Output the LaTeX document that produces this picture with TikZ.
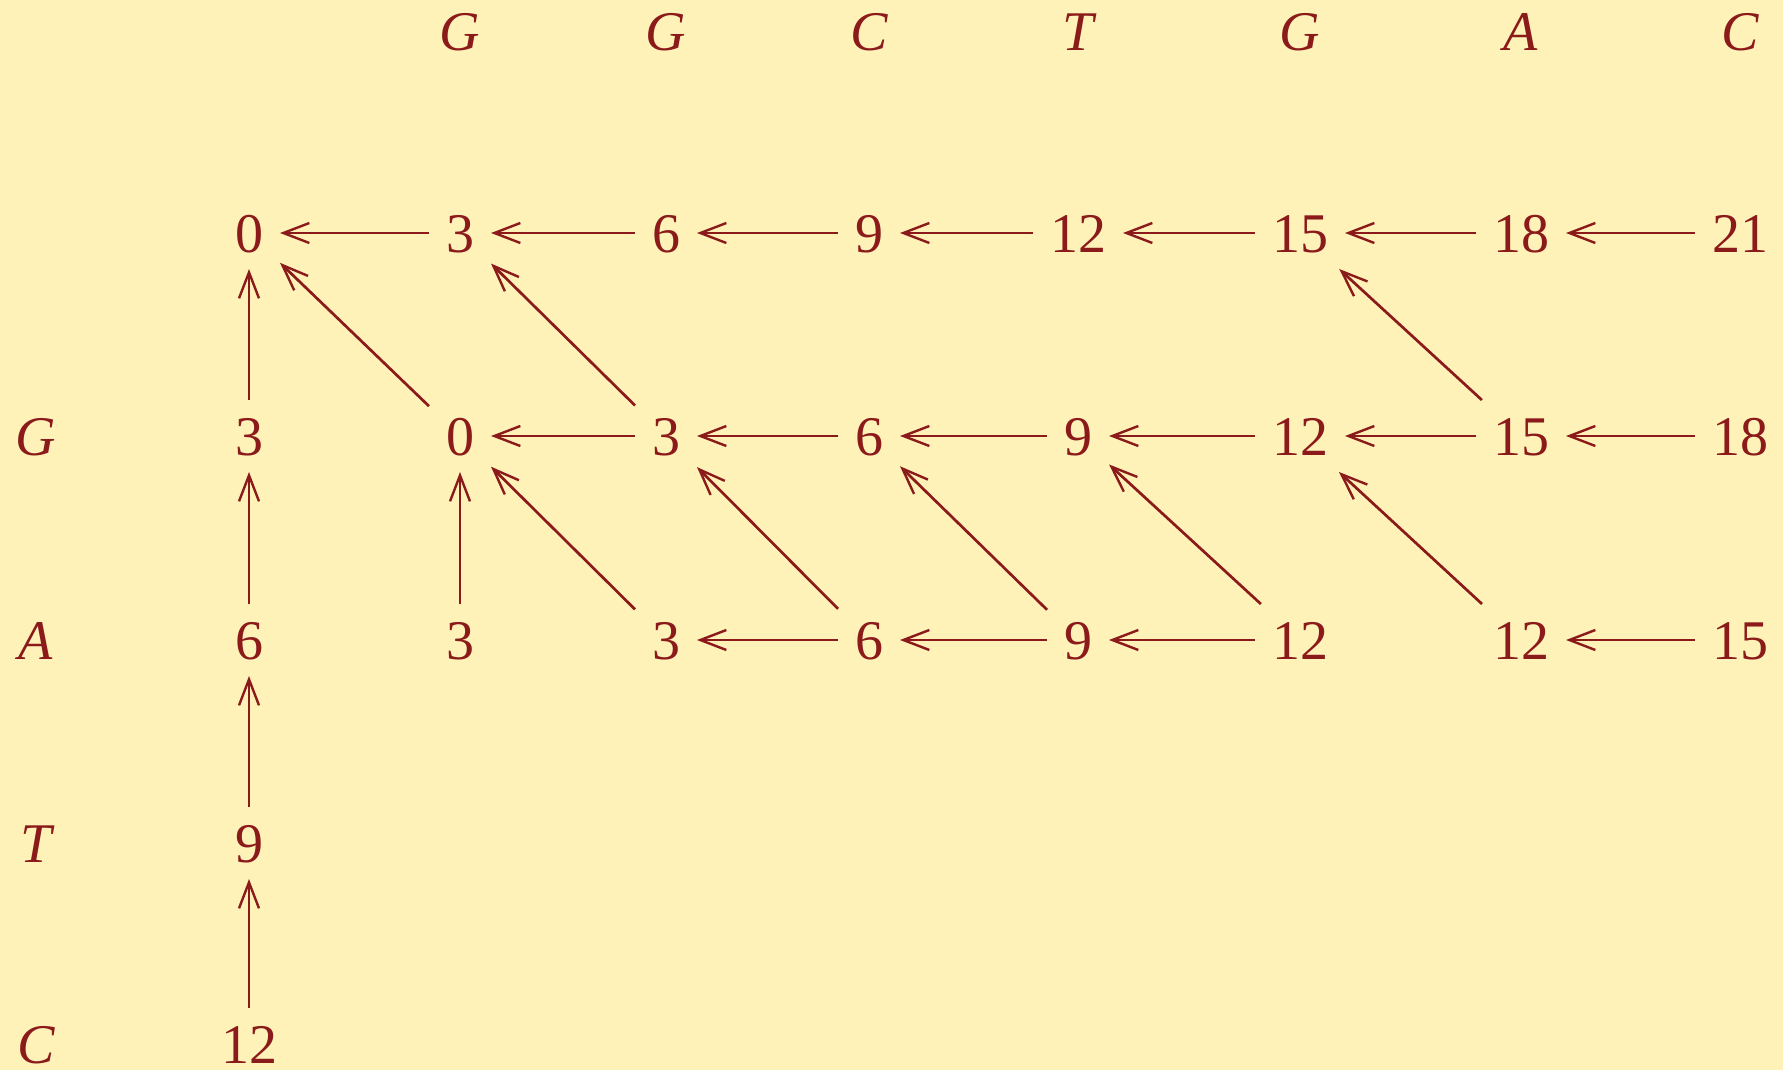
\documentclass[tikz,border=0pt]{standalone}
\usepackage{fontspec}
\setmainfont{Liberation Serif}
\usetikzlibrary{arrows.meta}
\definecolor{bg}{HTML}{FFF2B9}
\definecolor{ink}{HTML}{8B1A1A}
\begin{document}
\begin{tikzpicture}[x=0.5pt,y=-0.5pt,
  num/.style={text=ink,font=\fontsize{28}{32}\selectfont,inner sep=0pt,outer sep=8.5pt,text height=19pt,text depth=0pt},
  lab/.style={num,font=\fontsize{28}{32}\selectfont\itshape},
  arr/.style={draw=ink,line width=1.35pt,-{Straight Barb[length=13pt,width=10pt,line width=1.2pt]}}]
\fill[bg] (0,0) rectangle (1783,1070);
\useasboundingbox (0,0) rectangle (1783,1070);
% top letters
\foreach \x/\t/\n in {460/G/t1,666/G/t2,869/C/t3,1078/T/t4,1300/G/t5,1521/A/t6,1740/C/t7}
  \node[lab] (\n) at (\x,32) {\t};
% left letters
\foreach \y/\t/\n in {436/G/l1,640/A/l2,843/T/l3,1044/C/l4}
  \node[lab] (\n) at (36,\y) {\t};
% row 0
\foreach \x/\v/\c in {249/0/0,460/3/1,666/6/2,869/9/3,1078/12/4,1300/15/5,1521/18/6,1740/21/7}
  \node[num] (a\c) at (\x,233) {\v};
% row G
\foreach \x/\v/\c in {249/3/0,460/0/1,666/3/2,869/6/3,1078/9/4,1300/12/5,1521/15/6,1740/18/7}
  \node[num] (b\c) at (\x,436) {\v};
% row A
\foreach \x/\v/\c in {249/6/0,460/3/1,666/3/2,869/6/3,1078/9/4,1300/12/5,1521/12/6,1740/15/7}
  \node[num] (c\c) at (\x,640) {\v};
\node[num] (d0) at (249,843) {9};
\node[num] (e0) at (249,1044) {12};
% row 0 horizontals
\foreach \s/\t in {1/0,2/1,3/2,4/3,5/4,6/5,7/6}
  \draw[arr] (a\s) -- (a\t);
% row G horizontals
\foreach \s/\t in {2/1,3/2,4/3,5/4,6/5,7/6}
  \draw[arr] (b\s) -- (b\t);
% row A horizontals
\foreach \s/\t in {3/2,4/3,5/4,7/6}
  \draw[arr] (c\s) -- (c\t);
% column 0 verticals
\draw[arr] (b0) -- (a0);
\draw[arr] (c0) -- (b0);
\draw[arr] (d0) -- (c0);
\draw[arr] (e0) -- (d0);
\draw[arr] (c1) -- (b1);
% diagonals G -> row 0
\draw[arr] (b1) -- (a0);
\draw[arr] (b2) -- (a1);
\draw[arr] (b6) -- (a5);
% diagonals A -> G
\foreach \s/\t in {2/1,3/2,4/3,5/4,6/5}
  \draw[arr] (c\s) -- (b\t);
\end{tikzpicture}
\end{document}
